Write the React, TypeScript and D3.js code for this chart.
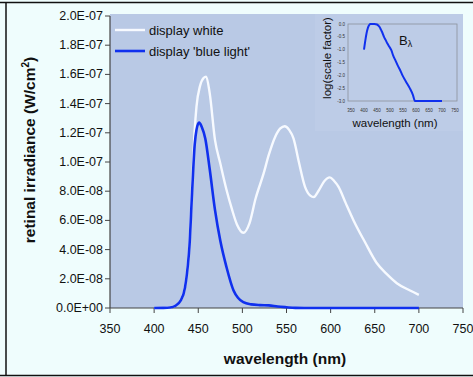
import * as d3 from "d3";

// main chart data, values in 1e-7 W/cm2
const blueWl = [400, 410, 418, 424, 430, 435, 438, 440, 443, 446, 448, 451, 454, 458, 463, 469, 475, 482, 490, 495, 501, 510, 520, 530, 540, 550, 560, 570, 600, 650, 700];
const blueVal = [0, 0.001, 0.004, 0.015, 0.05, 0.14, 0.28, 0.42, 0.79, 1.12, 1.22, 1.27, 1.24, 1.16, 0.95, 0.67, 0.46, 0.28, 0.12, 0.07, 0.04, 0.025, 0.02, 0.018, 0.01, 0.005, 0.001, 0, 0, 0, 0];

const whiteWl = [400, 410, 418, 424, 430, 435, 438, 440, 443, 446, 448, 452, 456, 459, 463, 469, 475, 482, 488, 494, 501, 508, 515, 524, 530, 537, 543, 548, 553, 558, 564, 571, 577, 581, 586, 593, 599, 604, 609, 617, 626, 639, 652, 664, 675, 690, 700];
const whiteVal = [0, 0.002, 0.005, 0.016, 0.052, 0.145, 0.29, 0.43, 0.82, 1.22, 1.38, 1.52, 1.575, 1.585, 1.47, 1.15, 0.99, 0.81, 0.68, 0.57, 0.515, 0.58, 0.75, 0.92, 1.05, 1.17, 1.23, 1.245, 1.22, 1.16, 1.0, 0.83, 0.77, 0.76, 0.8, 0.87, 0.895, 0.87, 0.83, 0.72, 0.6, 0.45, 0.31, 0.23, 0.17, 0.12, 0.09];

const yTickLabels = ["0.0E+00", "2.0E-08", "4.0E-08", "6.0E-08", "8.0E-08", "1.0E-07", "1.2E-07", "1.4E-07", "1.6E-07", "1.8E-07", "2.0E-07"];
const xTicks = [350, 400, 450, 500, 550, 600, 650, 700, 750];

// inset: log blue light hazard factor B(lambda)
const insetWl = [400, 405, 410, 415, 420, 425, 430, 440, 450, 455, 460, 465, 470, 477, 483, 490, 497, 505, 512, 520, 530, 540, 548, 560, 576, 588, 596, 620, 650, 700];
const insetVal = [-1.0, -0.65, -0.35, -0.15, -0.04, 0, 0, 0, -0.02, -0.06, -0.12, -0.22, -0.32, -0.5, -0.62, -0.76, -0.88, -1.02, -1.22, -1.4, -1.62, -1.82, -2.0, -2.22, -2.5, -2.76, -3.0, -3.0, -3.0, -3.0];
const insetYTicks = [0, -0.5, -1, -1.5, -2, -2.5, -3];

const font = "'Liberation Sans', Arial, sans-serif";

export default function App() {
  const width = 473;
  const height = 377;
  const m = { left: 110, right: 463, top: 16, bottom: 308 };

  const x = d3.scaleLinear().domain([350, 750]).range([m.left, m.right]);
  const y = d3.scaleLinear().domain([0, 2]).range([m.bottom, m.top]);

  const line = d3
    .line<number>()
    .curve(d3.curveMonotoneX);

  const whitePath = line
    .x((_, i) => x(whiteWl[i]))
    .y((d) => y(d))(whiteVal);
  const bluePath = line
    .x((_, i) => x(blueWl[i]))
    .y((d) => y(d))(blueVal);

  // inset scales
  const ix = d3.scaleLinear().domain([350, 750]).range([351, 455]);
  const iy = d3.scaleLinear().domain([-3, 0]).range([101, 24]);
  const insetPath = d3
    .line<number>()
    .curve(d3.curveMonotoneX)
    .x((_, i) => ix(insetWl[i]))
    .y((d) => iy(d))(insetVal);

  return (
    <svg
      width={width}
      height={height}
      style={{ position: "absolute", left: 0, top: 0 }}
      fontFamily={font}
    >
      <rect x={0} y={0} width={width} height={height} fill="#effdfd" />
      {/* outer frame */}
      <line x1={0} x2={width} y1={2.5} y2={2.5} stroke="#111" strokeWidth={1.5} />
      <line x1={6} x2={6} y1={2} y2={376} stroke="#111" strokeWidth={1.5} />
      <line x1={0} x2={width} y1={375.5} y2={375.5} stroke="#111" strokeWidth={1.5} />

      {/* plot area */}
      <rect x={m.left} y={14} width={m.right - m.left} height={m.bottom - 14} fill="#b9c9e5" />

      {/* inset panel */}
      <rect x={315} y={14} width={148} height={117} fill="#bdcce7" />
      <rect x={348} y={24} width={109} height={77} fill="none" stroke="#8c929c" strokeWidth={0.8} />
      {insetYTicks.map((t) => (
        <text key={t} x={345} y={iy(t) + 1.5} fontSize={4.5} textAnchor="end" fill="#333">
          {t.toFixed(1)}
        </text>
      ))}
      {xTicks.map((t) => (
        <text key={t} x={ix(t)} y={112} fontSize={4.5} textAnchor="middle" fill="#333">
          {t}
        </text>
      ))}
      <text x={395} y={127} fontSize={11.5} textAnchor="middle" fill="#111">
        wavelength (nm)
      </text>
      <text
        transform={`translate(331,58) rotate(-90)`}
        fontSize={11.5}
        textAnchor="middle"
        fill="#111"
      >
        log(scale factor)
      </text>
      <text x={399} y={45} fontSize={13} fill="#111">
        B<tspan fontSize={9} dy={2}>λ</tspan>
      </text>
      <path d={insetPath ?? ""} fill="none" stroke="#1030ee" strokeWidth={2} />

      {/* axes */}
      <line x1={m.left} x2={m.left} y1={m.top} y2={m.bottom} stroke="#444" strokeWidth={1.2} />
      <line x1={m.left} x2={m.right} y1={m.bottom} y2={m.bottom} stroke="#444" strokeWidth={1.2} />
      {yTickLabels.map((lab, i) => (
        <g key={lab}>
          <line x1={m.left - 5} x2={m.left} y1={y(i * 0.2)} y2={y(i * 0.2)} stroke="#444" />
          <text x={103} y={y(i * 0.2) + 4} fontSize={12.5} textAnchor="end" fill="#111">
            {lab}
          </text>
        </g>
      ))}
      {xTicks.map((t) => (
        <g key={t}>
          <line x1={x(t)} x2={x(t)} y1={m.bottom} y2={m.bottom + 5} stroke="#444" />
          <text x={x(t)} y={333} fontSize={12.5} textAnchor="middle" fill="#111">
            {t}
          </text>
        </g>
      ))}

      {/* series */}
      <path d={whitePath ?? ""} fill="none" stroke="#f7faff" strokeWidth={2.4} />
      <path d={bluePath ?? ""} fill="none" stroke="#1030ee" strokeWidth={2.6} />

      {/* legend */}
      <line x1={115} x2={145} y1={30} y2={30} stroke="#f7faff" strokeWidth={2.4} />
      <text x={149} y={34.5} fontSize={13} fill="#111">display white</text>
      <line x1={115} x2={145} y1={51} y2={51} stroke="#1030ee" strokeWidth={2.6} />
      <text x={149} y={55.5} fontSize={13} fill="#111">display 'blue light'</text>

      {/* axis titles */}
      <text x={285} y={364} fontSize={15.5} fontWeight="bold" textAnchor="middle" fill="#111">
        wavelength (nm)
      </text>
      <text
        transform={`translate(35,150) rotate(-90)`}
        fontSize={15.5}
        fontWeight="bold"
        textAnchor="middle"
        fill="#111"
      >
        retinal irradiance (W/cm<tspan fontSize={10} dy={-6}>2</tspan>
        <tspan dy={6}>)</tspan>
      </text>
    </svg>
  );
}
